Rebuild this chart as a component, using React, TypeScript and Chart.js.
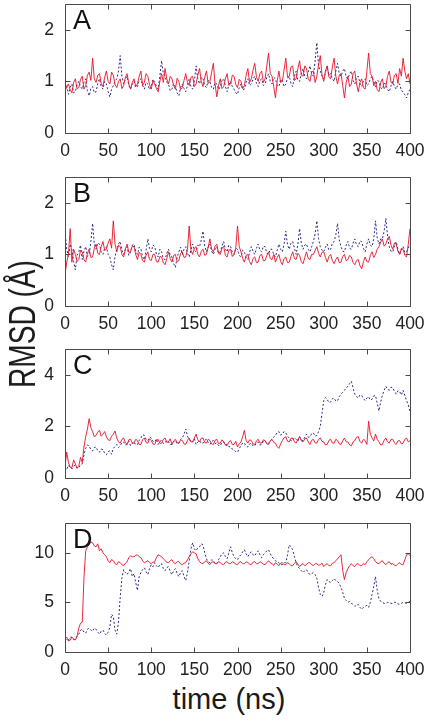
import React, { useEffect, useRef } from "react";
import { Chart, registerables } from "chart.js";

Chart.register(...registerables);

// time axis (ns), sampled every 2 ns
const TIME = [
  0, 2, 4, 6, 8, 10, 12, 14, 16, 18, 20, 22, 24, 26, 28, 30, 32, 34, 36, 38,
  40, 42, 44, 46, 48, 50, 52, 54, 56, 58, 60, 62, 64, 66, 68, 70, 72, 74, 76, 78,
  80, 82, 84, 86, 88, 90, 92, 94, 96, 98, 100, 102, 104, 106, 108, 110, 112, 114, 116, 118,
  120, 122, 124, 126, 128, 130, 132, 134, 136, 138, 140, 142, 144, 146, 148, 150, 152, 154, 156, 158,
  160, 162, 164, 166, 168, 170, 172, 174, 176, 178, 180, 182, 184, 186, 188, 190, 192, 194, 196, 198,
  200, 202, 204, 206, 208, 210, 212, 214, 216, 218, 220, 222, 224, 226, 228, 230, 232, 234, 236, 238,
  240, 242, 244, 246, 248, 250, 252, 254, 256, 258, 260, 262, 264, 266, 268, 270, 272, 274, 276, 278,
  280, 282, 284, 286, 288, 290, 292, 294, 296, 298, 300, 302, 304, 306, 308, 310, 312, 314, 316, 318,
  320, 322, 324, 326, 328, 330, 332, 334, 336, 338, 340, 342, 344, 346, 348, 350, 352, 354, 356, 358,
  360, 362, 364, 366, 368, 370, 372, 374, 376, 378, 380, 382, 384, 386, 388, 390, 392, 394, 396, 398,
  400,
];

const X_TICKS = [0, 50, 100, 150, 200, 250, 300, 350, 400];
const Y_TICKS_A = [0, 1, 2];
const Y_TICKS_B = [0, 1, 2];
const Y_TICKS_C = [0, 2, 4];
const Y_TICKS_D = [0, 5, 10];

const A_RED = [
  0.80, 0.90, 0.95, 0.84, 0.78, 0.98, 1.05, 0.86, 0.88, 1.04, 1.10, 0.85, 0.92, 1.12, 1.18, 1.02, 1.45, 1.05, 0.98, 1.12,
  1.15, 0.96, 0.90, 1.08, 1.20, 1.00, 0.95, 1.18, 1.12, 0.94, 0.88, 1.00, 1.05, 0.86, 0.92, 1.08, 1.15, 0.95, 0.85, 0.98,
  1.05, 0.90, 0.95, 1.10, 1.20, 0.92, 0.98, 1.15, 1.10, 0.94, 0.85, 1.02, 0.95, 0.86, 0.80, 1.00, 1.15, 0.98, 1.25, 1.05,
  0.95, 1.10, 1.05, 0.92, 0.85, 1.06, 1.00, 0.84, 0.88, 1.02, 1.15, 0.98, 0.92, 1.08, 1.10, 0.90, 0.95, 1.12, 1.25, 1.00,
  0.90, 1.08, 1.20, 0.96, 1.00, 1.18, 1.35, 0.95, 0.70, 0.92, 1.05, 0.86, 0.90, 1.05, 1.15, 0.92, 0.95, 1.12, 1.10, 0.94,
  0.88, 1.04, 1.00, 0.86, 0.92, 1.12, 1.25, 0.98, 1.05, 1.22, 1.35, 1.08, 1.00, 1.15, 1.20, 0.98, 1.05, 1.30, 1.55, 1.15,
  1.10, 0.90, 0.68, 1.00, 1.20, 0.98, 1.00, 1.22, 1.45, 1.08, 1.10, 1.28, 1.30, 1.02, 1.05, 1.25, 1.40, 1.12, 1.10, 1.30,
  1.25, 1.05, 1.00, 1.18, 1.20, 0.98, 1.10, 1.32, 1.50, 1.12, 1.00, 1.20, 1.30, 1.08, 1.05, 1.28, 1.45, 1.10, 0.95, 1.12,
  1.15, 0.92, 0.68, 0.98, 1.10, 0.90, 0.95, 1.15, 1.20, 0.95, 0.80, 0.98, 1.05, 0.88, 0.85, 1.20, 1.55, 1.15, 1.10, 0.92,
  1.00, 0.84, 0.80, 0.98, 1.05, 0.86, 0.90, 1.10, 1.20, 0.98, 0.95, 1.12, 1.15, 0.96, 1.25, 1.10, 1.45, 1.20, 1.05, 1.15,
  0.95,
];
const A_BLUE = [
  0.85, 0.92, 0.75, 0.88, 0.95, 0.78, 0.80, 0.94, 1.00, 0.90, 0.85, 0.98, 1.05, 0.82, 0.72, 0.86, 0.90, 0.78, 0.80, 0.96,
  1.05, 0.90, 0.85, 1.00, 0.95, 0.80, 0.70, 0.84, 0.92, 1.00, 1.05, 1.20, 1.50, 1.10, 0.95, 1.05, 1.10, 0.92, 0.85, 0.94,
  1.00, 0.88, 0.90, 1.02, 1.05, 0.92, 0.85, 0.98, 0.95, 0.84, 0.90, 1.04, 1.00, 0.90, 0.85, 1.10, 1.40, 1.15, 1.10, 0.98,
  0.95, 0.82, 0.85, 0.96, 0.90, 0.78, 0.72, 0.88, 0.95, 0.86, 0.80, 0.92, 1.05, 0.90, 0.85, 1.00, 1.30, 1.05, 0.95, 1.08,
  1.05, 0.92, 0.88, 1.02, 1.00, 0.88, 0.85, 0.98, 0.95, 0.84, 0.90, 1.02, 1.05, 0.90, 0.80, 0.94, 1.00, 0.90, 0.85, 0.78,
  0.75, 0.88, 0.95, 0.84, 0.85, 0.98, 1.05, 0.92, 0.95, 1.04, 1.10, 0.96, 0.90, 1.02, 1.05, 0.92, 0.95, 1.08, 1.15, 1.00,
  0.95, 1.08, 1.05, 0.92, 0.90, 1.04, 1.00, 0.90, 0.95, 1.06, 1.10, 0.96, 0.90, 1.10, 1.20, 1.02, 1.00, 1.15, 1.25, 1.10,
  1.05, 1.18, 1.30, 1.15, 1.10, 1.40, 1.75, 1.30, 1.20, 1.10, 1.05, 1.18, 1.30, 1.12, 1.15, 1.05, 1.00, 1.20, 1.35, 1.15,
  1.10, 1.20, 1.25, 1.08, 1.05, 1.15, 1.20, 1.02, 0.95, 1.08, 1.10, 0.96, 0.90, 1.00, 1.05, 0.92, 0.95, 1.05, 1.10, 0.98,
  0.90, 1.02, 1.00, 0.88, 0.85, 0.96, 0.95, 0.84, 0.80, 0.92, 1.00, 0.90, 0.85, 0.94, 0.95, 0.82, 0.80, 0.74, 0.68, 0.78,
  0.85,
];

const B_RED = [
  0.60, 0.85, 1.00, 1.50, 0.85, 1.10, 1.00, 0.86, 0.90, 1.08, 1.05, 0.90, 0.85, 1.02, 1.10, 0.94, 0.95, 1.12, 1.20, 1.02,
  1.00, 1.15, 1.25, 1.08, 1.10, 1.22, 1.30, 1.12, 1.65, 1.20, 1.05, 1.18, 1.15, 1.00, 0.95, 1.10, 1.20, 1.04, 1.05, 1.16,
  1.15, 1.00, 0.90, 1.04, 1.00, 0.88, 0.85, 0.98, 1.05, 0.90, 0.88, 1.00, 1.00, 0.86, 0.85, 0.96, 0.95, 0.84, 0.80, 0.92,
  1.05, 0.92, 0.85, 0.98, 1.00, 0.86, 0.88, 1.02, 1.05, 0.94, 0.95, 1.10, 1.55, 1.08, 1.00, 1.12, 1.15, 1.00, 0.95, 1.06,
  1.10, 0.98, 1.00, 1.14, 1.30, 1.10, 1.05, 1.16, 1.20, 1.02, 1.00, 1.12, 1.15, 0.98, 0.95, 1.08, 1.10, 0.96, 1.00, 1.12,
  1.55, 1.15, 1.05, 0.92, 0.85, 0.98, 1.00, 0.86, 0.80, 0.92, 0.95, 0.84, 0.85, 0.98, 1.00, 0.88, 0.88, 0.98, 1.05, 0.92,
  0.90, 1.00, 0.85, 0.94, 1.00, 0.86, 0.80, 0.92, 0.95, 0.84, 0.85, 0.96, 1.05, 0.92, 0.90, 1.02, 0.98, 0.86, 0.82, 0.94,
  1.05, 0.92, 0.90, 1.00, 1.00, 1.08, 1.15, 1.02, 0.95, 1.04, 1.05, 0.94, 0.85, 0.96, 1.00, 0.88, 0.82, 0.90, 0.95, 0.84,
  0.85, 0.96, 1.00, 0.88, 0.90, 0.98, 0.95, 0.84, 0.80, 0.88, 0.90, 0.78, 0.72, 0.86, 0.95, 0.86, 0.85, 0.98, 1.05, 0.94,
  1.00, 1.10, 1.15, 1.24, 1.30, 1.16, 1.20, 1.30, 1.35, 1.18, 1.10, 1.22, 1.20, 1.06, 1.00, 1.12, 1.10, 0.98, 0.95, 1.20,
  1.50,
];
const B_BLUE = [
  1.45, 1.10, 0.95, 1.20, 1.10, 0.86, 0.70, 0.98, 1.05, 1.18, 0.90, 1.06, 1.15, 0.96, 1.00, 1.25, 1.60, 1.20, 1.10, 1.22,
  1.20, 1.05, 1.00, 1.12, 1.15, 1.00, 0.95, 0.80, 0.70, 0.96, 1.10, 1.20, 1.25, 1.08, 1.00, 1.10, 1.15, 0.98, 1.05, 1.18,
  1.20, 1.06, 1.00, 1.14, 1.10, 0.96, 0.90, 1.08, 1.30, 1.12, 1.05, 1.18, 1.15, 1.00, 0.95, 1.10, 1.05, 0.92, 0.90, 1.02,
  1.10, 0.98, 0.95, 0.82, 0.75, 0.94, 1.05, 1.14, 1.00, 1.10, 1.15, 1.02, 0.95, 1.08, 1.20, 1.08, 1.05, 1.18, 1.15, 1.28,
  1.45, 1.16, 1.05, 1.14, 1.20, 1.06, 1.00, 1.10, 1.15, 1.02, 1.05, 1.16, 1.25, 1.10, 1.05, 1.18, 1.15, 1.04, 1.00, 1.12,
  1.10, 0.98, 0.95, 1.08, 1.05, 0.94, 0.90, 1.04, 1.15, 1.06, 1.00, 1.12, 1.20, 1.08, 1.05, 1.16, 1.15, 1.02, 1.00, 1.10,
  1.10, 1.00, 0.95, 1.08, 1.20, 1.10, 1.05, 1.20, 1.45, 1.18, 1.10, 1.22, 1.25, 1.12, 1.00, 1.20, 1.50, 1.22, 1.10, 1.18,
  1.20, 1.10, 1.05, 1.15, 1.25, 1.40, 1.65, 1.30, 1.15, 1.08, 1.05, 1.14, 1.20, 1.08, 1.10, 1.22, 1.25, 1.38, 1.60, 1.28,
  1.15, 1.06, 1.05, 1.18, 1.25, 1.12, 1.10, 1.22, 1.30, 1.18, 1.15, 1.26, 1.25, 1.12, 1.05, 1.20, 1.30, 1.18, 1.15, 1.30,
  1.65, 1.32, 1.20, 1.30, 1.30, 1.45, 1.70, 1.35, 1.15, 1.06, 1.05, 1.16, 1.25, 1.10, 1.00, 1.08, 1.15, 1.04, 1.05, 1.12,
  1.20,
];

const C_RED = [
  0.45, 1.00, 0.60, 0.42, 0.40, 0.70, 0.55, 0.38, 0.45, 0.80, 0.60, 1.20, 1.60, 1.90, 2.30, 1.95, 1.80, 1.60, 1.65, 1.78,
  1.85, 1.62, 1.70, 1.80, 1.60, 1.48, 1.45, 1.62, 1.70, 1.82, 1.55, 1.40, 1.35, 1.50, 1.55, 1.38, 1.30, 1.48, 1.50, 1.36,
  1.35, 1.50, 1.45, 1.30, 1.30, 1.48, 1.55, 1.38, 1.35, 1.52, 1.45, 1.32, 1.30, 1.46, 1.50, 1.34, 1.35, 1.50, 1.55, 1.38,
  1.40, 1.52, 1.30, 1.44, 1.50, 1.36, 1.35, 1.48, 1.45, 1.32, 1.30, 1.46, 1.55, 1.40, 1.40, 1.55, 1.70, 1.48, 1.40, 1.54,
  1.55, 1.38, 1.35, 1.50, 1.45, 1.32, 1.30, 1.46, 1.50, 1.34, 1.35, 1.48, 1.40, 1.28, 1.25, 1.40, 1.45, 1.30, 1.30, 1.42,
  1.20, 1.32, 1.40, 1.60, 1.85, 1.45, 1.35, 1.48, 1.45, 1.32, 1.30, 1.44, 1.50, 1.36, 1.35, 1.48, 1.45, 1.32, 1.30, 1.44,
  1.50, 1.38, 1.35, 1.22, 1.15, 1.32, 1.45, 1.56, 1.60, 1.42, 1.40, 1.54, 1.55, 1.40, 1.35, 1.50, 1.60, 1.44, 1.40, 1.52,
  1.55, 1.40, 1.30, 1.46, 1.50, 1.36, 1.35, 1.50, 1.55, 1.42, 1.40, 1.28, 1.30, 1.46, 1.50, 1.36, 1.35, 1.50, 1.45, 1.32,
  1.30, 1.44, 1.55, 1.40, 1.40, 1.28, 1.25, 1.40, 1.45, 1.58, 1.60, 1.42, 1.35, 1.50, 1.45, 1.30, 2.20, 1.70, 1.55, 1.44,
  1.70, 1.50, 1.40, 1.28, 1.30, 1.46, 1.55, 1.40, 1.35, 1.50, 1.50, 1.36, 1.30, 1.44, 1.45, 1.32, 1.35, 1.50, 1.55, 1.40,
  1.45,
];
const C_BLUE = [
  0.40, 0.32, 0.50, 0.42, 0.35, 0.46, 0.50, 0.38, 0.40, 0.52, 0.55, 0.90, 1.15, 1.28, 1.25, 1.10, 1.05, 1.18, 1.20, 1.06,
  1.00, 1.12, 1.10, 0.96, 0.90, 1.02, 1.05, 0.92, 1.15, 1.22, 1.30, 1.18, 1.25, 1.36, 1.40, 1.28, 1.30, 1.42, 1.25, 1.34,
  1.40, 1.28, 1.30, 1.45, 1.55, 1.68, 1.65, 1.50, 1.45, 1.58, 1.55, 1.42, 1.40, 1.52, 1.30, 1.42, 1.45, 1.34, 1.35, 1.46,
  1.40, 1.30, 1.30, 1.42, 1.45, 1.32, 1.35, 1.50, 1.55, 1.70, 1.90, 1.62, 1.50, 1.40, 1.40, 1.52, 1.30, 1.40, 1.45, 1.34,
  1.35, 1.46, 1.50, 1.38, 1.30, 1.42, 1.45, 1.34, 1.35, 1.26, 1.25, 1.38, 1.40, 1.28, 1.30, 1.22, 1.20, 1.12, 1.10, 1.02,
  1.00, 1.14, 1.25, 1.36, 1.35, 1.24, 1.20, 1.32, 1.35, 1.24, 1.25, 1.36, 1.40, 1.28, 1.30, 1.42, 1.45, 1.34, 1.35, 1.44,
  1.50, 1.58, 1.65, 1.76, 1.80, 1.66, 1.70, 1.80, 1.75, 1.62, 1.55, 1.44, 1.45, 1.56, 1.50, 1.42, 1.60, 1.48, 1.45, 1.58,
  1.70, 1.58, 1.60, 1.72, 1.75, 1.62, 1.65, 1.80, 2.00, 2.50, 3.00, 3.12, 3.05, 2.92, 2.95, 3.08, 3.10, 2.98, 3.00, 3.15,
  3.25, 3.32, 3.40, 3.50, 3.55, 3.66, 3.75, 3.50, 3.25, 3.16, 3.10, 3.22, 3.20, 3.08, 3.00, 3.10, 3.15, 3.02, 3.05, 3.18,
  3.20, 2.90, 2.60, 2.95, 3.20, 3.40, 3.55, 3.45, 3.40, 3.52, 3.50, 3.36, 3.25, 3.38, 3.35, 3.22, 3.40, 3.20, 3.00, 2.85,
  2.55,
];

const D_RED = [
  1.30, 1.50, 1.10, 1.20, 1.50, 1.30, 1.20, 1.60, 2.40, 2.90, 3.00, 7.50, 10.20, 10.60, 10.80, 11.10, 11.00, 10.70, 10.60, 10.90,
  10.20, 10.40, 10.00, 9.80, 9.60, 9.20, 9.00, 9.30, 9.20, 8.90, 8.80, 9.10, 9.00, 8.80, 8.70, 8.95, 9.10, 9.50, 9.70, 9.60,
  9.60, 9.75, 9.80, 9.60, 9.50, 9.20, 9.00, 9.10, 9.20, 9.00, 8.90, 9.05, 9.10, 9.50, 9.80, 9.70, 9.60, 9.40, 9.20, 9.05,
  9.00, 9.20, 9.30, 9.00, 8.90, 9.10, 9.10, 8.90, 8.80, 8.95, 9.00, 9.30, 9.60, 9.90, 10.10, 10.00, 9.90, 9.40, 9.10, 8.95,
  8.90, 9.10, 9.20, 8.95, 8.80, 9.05, 9.10, 8.90, 8.90, 9.10, 9.00, 8.85, 8.80, 9.05, 9.10, 8.90, 8.90, 9.10, 9.00, 8.85,
  8.80, 9.05, 9.10, 8.90, 8.90, 9.10, 9.00, 8.85, 8.80, 9.05, 9.10, 8.90, 8.90, 9.10, 9.00, 8.85, 8.80, 9.00, 9.20, 9.00,
  8.90, 8.75, 9.00, 8.85, 8.70, 8.95, 9.00, 8.80, 8.80, 9.00, 8.90, 8.70, 8.70, 8.95, 9.10, 8.85, 8.60, 8.80, 8.90, 8.70,
  8.80, 9.00, 9.00, 8.80, 8.70, 8.90, 8.90, 8.75, 8.80, 8.95, 8.60, 8.80, 8.90, 8.70, 8.70, 8.95, 9.00, 9.20, 9.40, 9.60,
  9.80, 8.20, 7.30, 8.00, 8.40, 8.70, 8.90, 8.70, 8.60, 8.85, 8.90, 8.70, 8.70, 8.90, 8.80, 9.10, 9.30, 9.50, 9.60, 9.40,
  9.10, 8.95, 8.90, 9.10, 9.20, 8.95, 8.80, 9.00, 9.10, 8.85, 8.90, 8.75, 8.70, 8.90, 9.00, 8.80, 8.80, 9.30, 9.80, 9.90,
  9.70,
];
const D_BLUE = [
  1.40, 1.20, 1.20, 1.50, 1.50, 1.25, 1.30, 1.60, 1.80, 2.20, 2.30, 2.00, 1.90, 2.30, 2.40, 2.20, 2.10, 2.40, 2.30, 2.00,
  1.80, 2.10, 2.20, 1.90, 1.70, 2.00, 2.50, 3.80, 3.60, 2.20, 1.80, 3.00, 5.50, 7.50, 8.30, 8.00, 7.80, 8.10, 8.40, 7.60,
  7.90, 7.00, 6.20, 7.60, 8.00, 8.30, 8.50, 8.10, 7.80, 8.40, 8.80, 8.60, 9.00, 8.70, 8.50, 8.80, 8.90, 8.40, 8.20, 8.50,
  8.60, 8.10, 7.80, 8.20, 8.40, 7.90, 7.60, 8.00, 8.20, 7.60, 7.20, 8.00, 9.20, 10.40, 11.00, 10.40, 10.20, 10.50, 10.60, 10.90,
  10.80, 10.00, 9.40, 9.10, 9.00, 9.30, 9.20, 8.90, 8.90, 9.30, 9.60, 9.90, 10.00, 9.60, 9.40, 10.00, 10.60, 10.00, 9.60, 9.40,
  9.30, 9.60, 9.80, 10.10, 10.30, 9.90, 9.60, 9.90, 10.10, 9.80, 9.70, 10.00, 10.20, 9.80, 9.50, 9.80, 10.00, 10.20, 10.30, 9.90,
  9.60, 9.40, 9.20, 9.10, 9.00, 8.80, 8.80, 9.00, 9.00, 9.80, 10.80, 10.60, 10.30, 9.60, 9.00, 8.60, 8.40, 8.20, 8.00, 8.20,
  8.30, 8.00, 7.80, 7.90, 8.00, 7.80, 7.40, 6.50, 5.80, 5.60, 6.00, 6.80, 7.30, 7.10, 7.00, 7.20, 7.40, 7.20, 7.10, 6.90,
  6.50, 6.00, 5.40, 5.20, 5.00, 5.10, 4.90, 4.80, 4.60, 4.70, 4.80, 4.50, 4.30, 4.50, 4.60, 4.70, 4.50, 5.00, 5.80, 6.60,
  7.60, 6.20, 5.40, 5.10, 5.00, 4.90, 4.90, 5.00, 5.00, 4.90, 4.90, 5.00, 5.00, 4.85, 4.80, 4.90, 5.00, 4.95, 4.90, 5.00,
  5.10,
];

const PANELS = [
  { letter: "A", yMax: 2.5, yTicks: Y_TICKS_A, red: A_RED, blue: A_BLUE, top: 0 },
  { letter: "B", yMax: 2.5, yTicks: Y_TICKS_B, red: B_RED, blue: B_BLUE, top: 173 },
  { letter: "C", yMax: 5, yTicks: Y_TICKS_C, red: C_RED, blue: C_BLUE, top: 345 },
  { letter: "D", yMax: 13, yTicks: Y_TICKS_D, red: D_RED, blue: D_BLUE, top: 519 },
];

const FONT = "'Liberation Sans', Arial, Helvetica, sans-serif";
const CANVAS_W = 428;
const CANVAS_H = 163;

const framePlugin = {
  id: "frame",
  afterDatasetsDraw(chart: any, _args: any, opts: any) {
    const { ctx, chartArea } = chart;
    const { left, right, top, bottom } = chartArea;
    const xs = chart.scales.x;
    const ys = chart.scales.y;
    ctx.save();
    ctx.strokeStyle = "#4a4a4a";
    ctx.lineWidth = 1;
    const l = Math.round(left) + 0.5;
    const r = Math.round(right) + 0.5;
    const t = Math.round(top) + 0.5;
    const b = Math.round(bottom) + 0.5;
    ctx.beginPath();
    ctx.rect(l, t, r - l, b - t);
    for (const tk of xs.ticks) {
      const px = Math.round(xs.getPixelForValue(tk.value)) + 0.5;
      ctx.moveTo(px, b);
      ctx.lineTo(px, b - 5);
      ctx.moveTo(px, t);
      ctx.lineTo(px, t + 5);
    }
    for (const tk of ys.ticks) {
      const py = Math.round(ys.getPixelForValue(tk.value)) + 0.5;
      ctx.moveTo(l, py);
      ctx.lineTo(l + 5, py);
      ctx.moveTo(r, py);
      ctx.lineTo(r - 5, py);
    }
    ctx.stroke();
    ctx.fillStyle = "#111";
    ctx.font = `27px ${FONT}`;
    ctx.textBaseline = "alphabetic";
    ctx.textAlign = "left";
    ctx.fillText(opts.letter, left + 8, top + 25);
    ctx.restore();
  },
};

function Panel({ cfg }: { cfg: any }) {
  const ref = useRef<HTMLCanvasElement | null>(null);
  useEffect(() => {
    if (!ref.current) return;
    const redData = TIME.map((t, i) => ({ x: t, y: cfg.red[i] }));
    const blueData = TIME.map((t, i) => ({ x: t, y: cfg.blue[i] }));
    const chart = new Chart(ref.current, {
      type: "line",
      data: {
        datasets: [
          {
            data: redData,
            borderColor: "rgba(232,22,44,0.92)",
            borderWidth: 1,
            pointRadius: 0,
            tension: 0,
          },
          {
            data: blueData,
            borderColor: "rgb(42,42,140)",
            borderWidth: 1,
            borderDash: [2, 2],
            pointRadius: 0,
            tension: 0,
          },
        ],
      },
      options: {
        animation: false,
        responsive: false,
        maintainAspectRatio: false,
        layout: { padding: { top: 4, right: 18, left: 0, bottom: 0 } },
        plugins: {
          legend: { display: false },
          tooltip: { enabled: false },
          frame: { letter: cfg.letter },
        } as any,
        scales: {
          x: {
            type: "linear",
            min: 0,
            max: 400,
            border: { display: false },
            grid: { display: false, drawTicks: false },
            ticks: {
              padding: 8,
              color: "#222",
              font: { family: FONT, size: 17.5 },
              maxRotation: 0,
              autoSkip: false,
            },
            afterBuildTicks: (s: any) => {
              s.ticks = X_TICKS.map((v) => ({ value: v }));
            },
            afterFit: (s: any) => {
              s.height = 30;
              s.paddingLeft = 0;
              s.paddingRight = 0;
            },
          },
          y: {
            type: "linear",
            min: 0,
            max: cfg.yMax,
            border: { display: false },
            grid: { display: false, drawTicks: false },
            ticks: {
              padding: 11,
              color: "#222",
              font: { family: FONT, size: 17.5 },
              autoSkip: false,
            },
            afterBuildTicks: (s: any) => {
              s.ticks = cfg.yTicks.map((v: number) => ({ value: v }));
            },
            afterFit: (s: any) => {
              s.width = 65;
              s.paddingTop = 0;
              s.paddingBottom = 0;
            },
          },
        },
      },
      plugins: [framePlugin],
    } as any);
    return () => chart.destroy();
  }, [cfg]);
  return (
    <canvas
      ref={ref}
      width={CANVAS_W}
      height={CANVAS_H}
      style={{ position: "absolute", left: 0, top: cfg.top, width: CANVAS_W, height: CANVAS_H, display: "block" }}
    />
  );
}

export default function App() {
  return (
    <div style={{ position: "absolute", left: 0, top: 0, width: 428, height: 721, background: "#fff", overflow: "hidden" }}>
      {PANELS.map((p) => (
        <Panel key={p.letter} cfg={p} />
      ))}
      <div
        style={{
          position: "absolute",
          left: 23,
          top: 324,
          transform: "translate(-50%, -50%) rotate(-90deg) scaleX(0.78)",
          fontFamily: FONT,
          fontSize: 36,
          lineHeight: 1,
          whiteSpace: "nowrap",
          color: "#1a1a1a",
        }}
      >
        RMSD (Å)
      </div>
      <div
        style={{
          position: "absolute",
          left: 229,
          top: 685,
          transform: "translateX(-50%)",
          fontFamily: FONT,
          fontSize: 29,
          lineHeight: 1,
          whiteSpace: "nowrap",
          color: "#1a1a1a",
        }}
      >
        time (ns)
      </div>
    </div>
  );
}
